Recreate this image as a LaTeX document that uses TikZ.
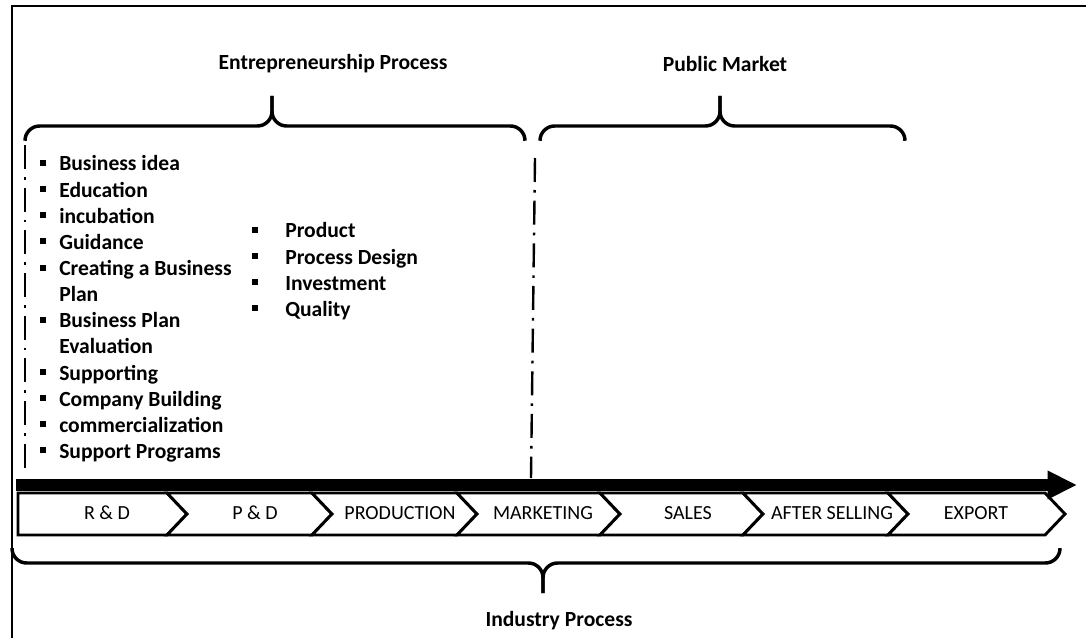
\documentclass[tikz,border=0pt]{standalone}
\usepackage{fontspec}
\setmainfont{Carlito}
\usetikzlibrary{arrows.meta}

\newcommand{\sqbullet}{\rule[3.75pt]{4.5pt}{4.5pt}}

\begin{document}
\begin{tikzpicture}[x=0.75pt,y=-0.75pt]
    \tikzstyle{frame} = [line width=1.5pt]
    \tikzstyle{brace} = [line width=2.6pt, rounded corners=11pt]
    \tikzstyle{divider} = [line width=1.8pt, dash pattern=on 18pt off 6pt on 2pt off 6pt]
    \tikzstyle{title} = [font=\fontsize{16.2}{19.6}\selectfont\bfseries]
    \tikzstyle{items} = [anchor=base west, inner sep=0pt, font=\fontsize{16.2}{19.6}\selectfont\bfseries]
    \tikzstyle{stage} = [line width=2.2pt, fill=white, line join=miter]
    \tikzstyle{stagelabel} = [font=\fontsize{15}{18}\selectfont]
    \tikzstyle{flow} = [line width=9pt, -{Triangle[length=22pt,width=20pt]}]
    \useasboundingbox (0,0) rectangle (1086,638);

    % outer frame
    \draw[frame] (12,638) -- (12,6) -- (1086,6);

    % headings
    \node[title] (entre) at (333,64) {Entrepreneurship Process};
    \node[title] (market) at (725,64) {Public Market};
    \node[title] (industry) at (559,621) {Industry Process};

    % braces
    \draw[brace] (25,140) |- (272,126) -- (272,96);
    \draw[brace] (525,140) |- (272,126) -- (272,96);
    \draw[brace] (540,140) |- (720,126) -- (720,96);
    \draw[brace] (905,140) |- (720,126) -- (720,96);
    \draw[brace] (12,548) |- (543,563) -- (543,593);
    \draw[brace] (1060,548) |- (543,563) -- (543,593);

    % phase borders
    \draw[divider] (25,145) -- (25,468);
    \draw[divider] (535,158) -- (531,478);

    % bullet lists
    \node[items] (startup) at (40,171) {\begin{tabular}[t]{@{}l@{\hspace{9.75pt}}l@{}}
        \sqbullet & Business idea\\
        \sqbullet & Education\\
        \sqbullet & incubation\\
        \sqbullet & Guidance\\
        \sqbullet & Creating a Business\\
                  & Plan\\
        \sqbullet & Business Plan\\
                  & Evaluation\\
        \sqbullet & Supporting\\
        \sqbullet & Company Building\\
        \sqbullet & commercialization\\
        \sqbullet & Support Programs
    \end{tabular}};
    \node[items] (design) at (252,238) {\begin{tabular}[t]{@{}l@{\hspace{20.25pt}}l@{}}
        \sqbullet & Product\\
        \sqbullet & Process Design\\
        \sqbullet & Investment\\
        \sqbullet & Quality
    \end{tabular}};

    % value chain
    \draw[stage] (18,493) -- (167,493) -- (187,514) -- (167,535) -- (18,535) -- cycle;
    \draw[stage] (167,493) -- (312,493) -- (332,514) -- (312,535) -- (167,535) -- (187,514) -- cycle;
    \draw[stage] (312,493) -- (457,493) -- (477,514) -- (457,535) -- (312,535) -- (332,514) -- cycle;
    \draw[stage] (457,493) -- (600,493) -- (620,514) -- (600,535) -- (457,535) -- (477,514) -- cycle;
    \draw[stage] (600,493) -- (743,493) -- (763,514) -- (743,535) -- (600,535) -- (620,514) -- cycle;
    \draw[stage] (743,493) -- (888,493) -- (908,514) -- (888,535) -- (743,535) -- (763,514) -- cycle;
    \draw[stage] (888,493) -- (1045,493) -- (1065,514) -- (1045,535) -- (888,535) -- (908,514) -- cycle;
    \node[stagelabel] (rd) at (107,513) {R \& D};
    \node[stagelabel] (pd) at (255,513) {P \& D};
    \node[stagelabel] (production) at (400,513) {PRODUCTION};
    \node[stagelabel] (marketing) at (543,513) {MARKETING};
    \node[stagelabel] (sales) at (688,513) {SALES};
    \node[stagelabel] (after) at (832,513) {AFTER SELLING};
    \node[stagelabel] (export) at (976,513) {EXPORT};

    \coordinate (flowstart) at (16,485);
    \coordinate (flowend) at (1077,485);
    \draw[flow] (flowstart) -- (flowend);
\end{tikzpicture}
\end{document}
